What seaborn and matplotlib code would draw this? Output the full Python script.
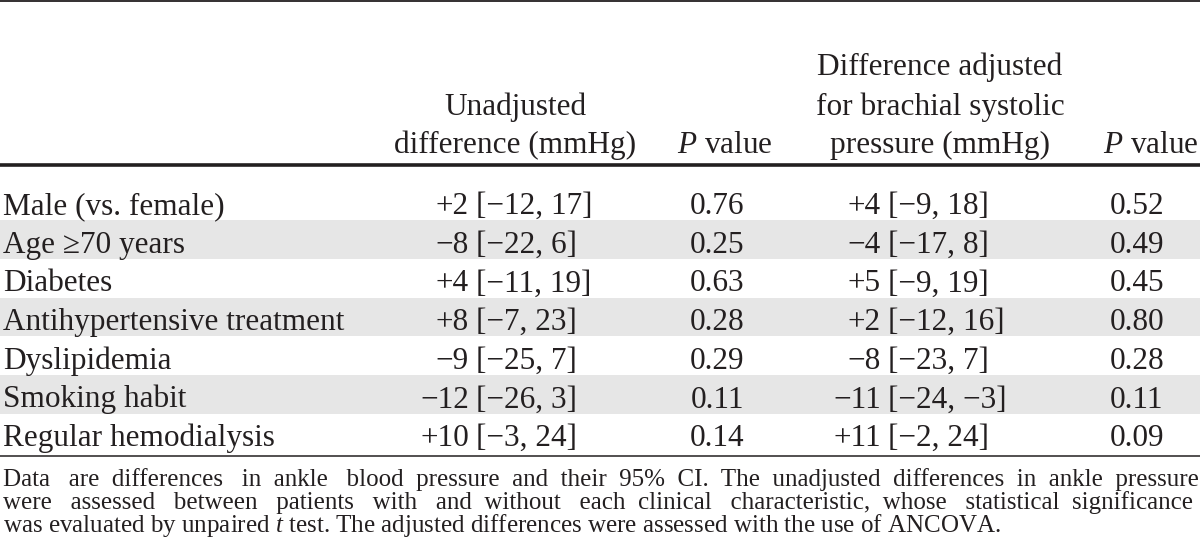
import matplotlib
matplotlib.use("Agg")
import matplotlib.pyplot as plt
from matplotlib.font_manager import FontProperties
import seaborn as sns

# ---------------- data ----------------
characteristics = ["Male (vs. female)", "Age \u226570 years", "Diabetes",
                   "Antihypertensive treatment", "Dyslipidemia",
                   "Smoking habit", "Regular hemodialysis"]
unadj_diff = ["+2 [\u221212, 17]", "\u22128 [\u221222, 6]", "+4 [\u221211, 19]",
              "+8 [\u22127, 23]", "\u22129 [\u221225, 7]", "\u221212 [\u221226, 3]",
              "+10 [\u22123, 24]"]
unadj_p = ["0.76", "0.25", "0.63", "0.28", "0.29", "0.11", "0.14"]
adj_diff = ["+4 [\u22129, 18]", "\u22124 [\u221217, 8]", "+5 [\u22129, 19]",
            "+2 [\u221212, 16]", "\u22128 [\u221223, 7]", "\u221211 [\u221224, \u22123]",
            "+11 [\u22122, 24]"]
adj_p = ["0.52", "0.49", "0.45", "0.80", "0.28", "0.11", "0.09"]

header_unadj = ["Unadjusted", "difference (mmHg)"]
header_adj = ["Difference adjusted", "for brachial systolic", "pressure (mmHg)"]
header_p = "$P$ value"
footnote = ["Data are differences in ankle blood pressure and their 95% CI. The unadjusted differences in ankle pressure",
            "were assessed between patients with and without each clinical characteristic, whose statistical significance",
            "was evaluated by unpaired $t$ test. The adjusted differences were assessed with the use of ANCOVA."]

# ---------------- style ----------------
sns.set_theme(style="white")
FAMILY = ['Liberation Serif', 'DejaVu Serif']
plt.rcParams['font.family'] = FAMILY
plt.rcParams['mathtext.fontset'] = 'custom'
plt.rcParams['mathtext.rm'] = 'Liberation Serif'
plt.rcParams['mathtext.it'] = 'Liberation Serif:italic'

TXT = "#231f20"
SHADE = "#e6e6e6"
FS = 22.5
FS_NOTE = 18

W, H = 1200, 559
fig = plt.figure(figsize=(W / 100, H / 100), dpi=100)
ax = fig.add_axes([0, 0, 1, 1])
ax.set_xlim(0, W)
ax.set_ylim(H, 0)
ax.axis("off")

# layout
row_top = 181.5
row_h = 38.7
base_off = 32.5
hdr_base = [75, 115, 153]
x_lab = 3
x_unadj_bracket = 476
x_unadj_hdr = 515
x_p1 = 717
x_p1_hdr = 725
x_adj_bracket = 888
x_adj_hdr = 940
x_p2_left = 1110
prefix_gap = 7

# rules
ax.axhline(1, color=TXT, lw=1.3)
ax.axhline(165, color=TXT, lw=2.6)
ax.axhline(row_top + len(characteristics) * row_h + 3.5, color=TXT, lw=1.1)

# shaded bands
for i in range(len(characteristics)):
    if i % 2 == 1:
        ax.axhspan(row_top + i * row_h, row_top + (i + 1) * row_h, color=SHADE, lw=0, zorder=0)

# header
for k, line in enumerate(header_unadj):
    ax.text(x_unadj_hdr, hdr_base[k + 1], line, ha="center", va="baseline", fontsize=FS, color=TXT)
for k, line in enumerate(header_adj):
    ax.text(x_adj_hdr, hdr_base[k], line, ha="center", va="baseline", fontsize=FS, color=TXT)
ax.text(x_p1_hdr, hdr_base[2], header_p, ha="center", va="baseline", fontsize=FS, color=TXT)
ax.text(W - 1, hdr_base[2], header_p, ha="right", va="baseline", fontsize=FS, color=TXT)


def bracket_aligned(x_br, y, s):
    pre, br = s.split(" [", 1)
    ax.text(x_br - prefix_gap, y, pre, ha="right", va="baseline", fontsize=FS, color=TXT)
    ax.text(x_br, y, "[" + br, ha="left", va="baseline", fontsize=FS, color=TXT)


# body
for i in range(len(characteristics)):
    yb = row_top + i * row_h + base_off
    ax.text(x_lab, yb, characteristics[i], ha="left", va="baseline", fontsize=FS, color=TXT)
    bracket_aligned(x_unadj_bracket, yb, unadj_diff[i])
    ax.text(x_p1, yb, unadj_p[i], ha="center", va="baseline", fontsize=FS, color=TXT)
    bracket_aligned(x_adj_bracket, yb, adj_diff[i])
    ax.text(x_p2_left, yb, adj_p[i], ha="left", va="baseline", fontsize=FS, color=TXT)

# footnote: one text per line, first lines justified by padding spaces
fig.canvas.draw()
renderer = fig.canvas.get_renderer()
fp_note = FontProperties(family=FAMILY, size=FS_NOTE)


def width_of(s):
    w, h, d = renderer.get_text_width_height_descent(s, fp_note, ismath=False)
    return w


def justify(line, target):
    words = line.split(" ")
    n_gap = len(words) - 1
    extra = [0] * n_gap
    space_w = width_of("a b") - width_of("ab")

    def build():
        return "".join(w + (" " * (1 + extra[j]) if j < n_gap else "")
                       for j, w in enumerate(words))
    order = list(range(0, n_gap, 2)) + list(range(1, n_gap, 2))
    k = 0
    while width_of(build()) + space_w * 0.5 < target:
        extra[order[k % n_gap]] += 1
        k += 1
    return build()


x_right = W - 4
note_lines = [justify(l, x_right - x_lab) for l in footnote[:-1]] + [footnote[-1]]
note_base = [486, 509, 532]
for k, line in enumerate(note_lines):
    ax.text(x_lab, note_base[k], line, ha="left", va="baseline", fontsize=FS_NOTE, color=TXT)

fig.savefig("out.png", dpi=100)
